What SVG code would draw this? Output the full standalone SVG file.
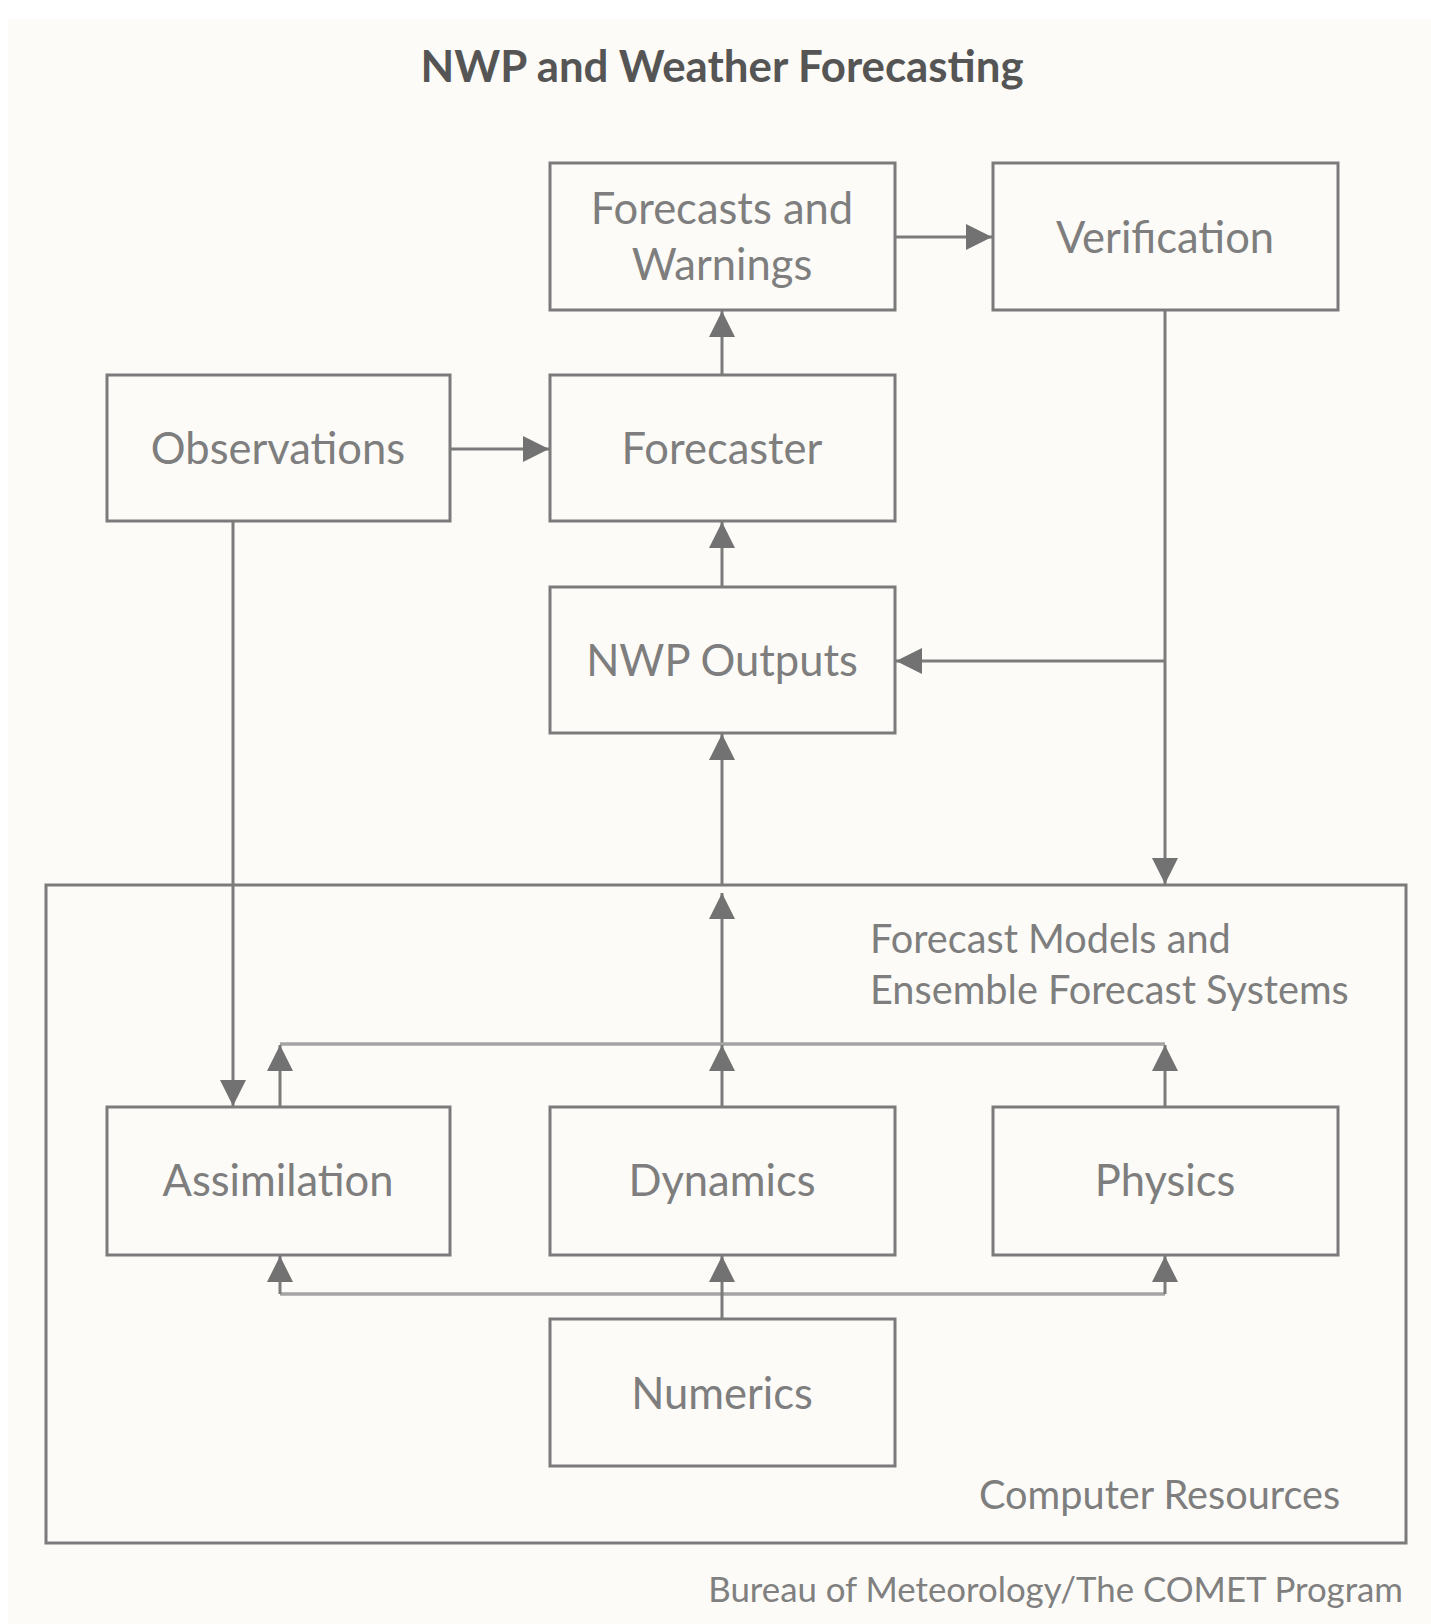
<svg xmlns="http://www.w3.org/2000/svg" width="1431" height="1624" viewBox="0 0 1431 1624">
<style>
.box{fill:#fcfbf7;stroke:#7b7b7b;stroke-width:3}
.lbl{font-family:Lato,"Open Sans",sans-serif;font-size:43.5px;fill:#7e7e7e;text-anchor:middle}
.sm{font-family:Lato,"Open Sans",sans-serif;font-size:39.7px;fill:#7e7e7e}
.ln{fill:none;stroke:#7b7b7b;stroke-width:3}
.lt{fill:none;stroke:#a4a4a4;stroke-width:3.5}
</style>
<defs>
<marker id="ah" markerUnits="userSpaceOnUse" markerWidth="28" markerHeight="26" refX="26" refY="13" orient="auto">
<path d="M0,0 L26,13 L0,26 z" fill="#727272"/>
</marker>
</defs>
<rect x="0" y="0" width="1431" height="1624" fill="#ffffff"/>
<rect x="8" y="19" width="1423" height="1605" fill="#fcfbf7"/>
<text x="722" y="82" font-family="Lato,'Open Sans',sans-serif" font-weight="bold" font-size="43.8" fill="#555555" text-anchor="middle">NWP and Weather Forecasting</text>

<g id="container">
<rect x="46" y="885" width="1360" height="658" class="box"/>
<text class="sm" x="870" y="953">Forecast Models and</text>
<text class="sm" x="870" y="1004">Ensemble Forecast Systems</text>
<text class="sm" x="979" y="1509">Computer Resources</text>
</g>

<g id="forecasts">
<rect x="550" y="163" width="345" height="147" class="box"/>
<text class="lbl" x="722" y="224">Forecasts and</text>
<text class="lbl" x="722" y="280">Warnings</text>
</g>
<g id="verification">
<rect x="993" y="163" width="345" height="147" class="box"/>
<text class="lbl" x="1165" y="253">Verification</text>
</g>
<g id="observations">
<rect x="107" y="375" width="343" height="146" class="box"/>
<text class="lbl" x="278" y="464">Observations</text>
</g>
<g id="forecaster">
<rect x="550" y="375" width="345" height="146" class="box"/>
<text class="lbl" x="722" y="464">Forecaster</text>
</g>
<g id="nwp">
<rect x="550" y="587" width="345" height="146" class="box"/>
<text class="lbl" x="722" y="676">NWP Outputs</text>
</g>
<g id="assimilation">
<rect x="107" y="1107" width="343" height="148" class="box"/>
<text class="lbl" x="278" y="1196">Assimilation</text>
</g>
<g id="dynamics">
<rect x="550" y="1107" width="345" height="148" class="box"/>
<text class="lbl" x="722" y="1196">Dynamics</text>
</g>
<g id="physics">
<rect x="993" y="1107" width="345" height="148" class="box"/>
<text class="lbl" x="1165" y="1196">Physics</text>
</g>
<g id="numerics">
<rect x="550" y="1319" width="345" height="147" class="box"/>
<text class="lbl" x="722" y="1409">Numerics</text>
</g>

<g id="connectors">
<line class="ln" x1="895" y1="237" x2="992" y2="237" marker-end="url(#ah)"/>
<line class="ln" x1="722" y1="375" x2="722" y2="311" marker-end="url(#ah)"/>
<line class="ln" x1="450" y1="449" x2="549" y2="449" marker-end="url(#ah)"/>
<line class="ln" x1="722" y1="587" x2="722" y2="522" marker-end="url(#ah)"/>
<line class="ln" x1="1165" y1="310" x2="1165" y2="884" marker-end="url(#ah)"/>
<line class="ln" x1="1165" y1="661" x2="896" y2="661" marker-end="url(#ah)"/>
<line class="ln" x1="722" y1="885" x2="722" y2="734" marker-end="url(#ah)"/>
<line class="ln" x1="722" y1="1044" x2="722" y2="893" marker-end="url(#ah)"/>
<line class="ln" x1="233" y1="521" x2="233" y2="1106" marker-end="url(#ah)"/>
<path class="lt" d="M280,1044 H1165"/>
<line class="ln" x1="280" y1="1107" x2="280" y2="1045" marker-end="url(#ah)"/>
<line class="ln" x1="722" y1="1107" x2="722" y2="1045" marker-end="url(#ah)"/>
<line class="ln" x1="1165" y1="1107" x2="1165" y2="1045" marker-end="url(#ah)"/>
<path class="lt" d="M280,1294 H1165"/>
<line class="ln" x1="280" y1="1294" x2="280" y2="1256" marker-end="url(#ah)"/>
<line class="ln" x1="722" y1="1319" x2="722" y2="1256" marker-end="url(#ah)"/>
<line class="ln" x1="1165" y1="1294" x2="1165" y2="1256" marker-end="url(#ah)"/>
</g>
<text x="1403" y="1602" font-family="Lato,'Open Sans',sans-serif" font-size="34.8" fill="#808080" text-anchor="end">Bureau of Meteorology/The COMET Program</text>
</svg>
